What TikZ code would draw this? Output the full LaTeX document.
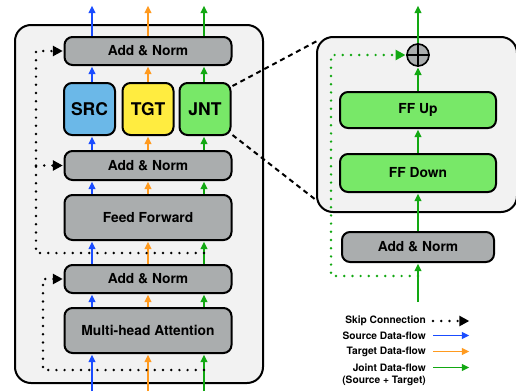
\documentclass[tikz,border=0pt]{standalone}
\usepackage{fontspec}
\setmainfont{TeX Gyre Heros}
\usetikzlibrary{arrows.meta,calc}
\definecolor{boxgray}{RGB}{170,173,174}
\definecolor{bgray}{RGB}{242,242,242}
\definecolor{srcfill}{RGB}{107,184,232}
\definecolor{tgtfill}{RGB}{255,236,64}
\definecolor{jntfill}{RGB}{120,232,104}
\definecolor{bluearr}{RGB}{26,76,255}
\definecolor{orangearr}{RGB}{255,154,31}
\definecolor{greenarr}{RGB}{18,168,18}
\begin{document}
\begin{tikzpicture}[x=1pt,y=-1pt,
  container/.style={draw=black,line width=2pt,fill=bgray,rounded corners=16pt,inner sep=0pt},
  box/.style={draw=black,line width=2pt,rounded corners=8pt,inner sep=0pt,
    font=\bfseries\fontsize{13.8}{16}\selectfont},
  gbox/.style={box,fill=boxgray,minimum width=167pt},
  cbox/.style={box,font=\bfseries\fontsize{17.5}{20}\selectfont,minimum width=51pt,minimum height=52pt},
  fbox/.style={box,fill=jntfill,minimum width=156pt},
  flow/.style={line width=1.4pt,-{Triangle[length=7.5pt,width=7pt]},shorten >=0.7pt},
  barr/.style={flow,draw=bluearr,color=bluearr},
  oarr/.style={flow,draw=orangearr,color=orangearr},
  garr/.style={flow,draw=greenarr,color=greenarr},
  skip/.style={line width=2.7pt,line cap=round,dash pattern=on 0pt off 8.2pt,
    -{Triangle[length=10pt,width=10pt]},shorten >=0.7pt},
  gskip/.style={skip,draw=greenarr,color=greenarr},
  zoomline/.style={line width=2pt,dash pattern=on 5pt off 4pt},
  legend/.style={font=\bfseries\fontsize{10.2}{12}\selectfont,inner sep=0pt,anchor=east}
]
\useasboundingbox (0,0) rectangle (516,391);

% containers
\node[container,minimum width=248pt,minimum height=358pt] (lbox) at (139,204) {};
\node[container,minimum width=200pt,minimum height=175pt] (rbox) at (417,124.5) {};

% left column blocks
\node[gbox,minimum height=28pt] (an1) at (148,51) {Add \& Norm};
\node[cbox,fill=srcfill] (src) at (89.5,109) {SRC};
\node[cbox,fill=tgtfill] (tgt) at (148,109) {TGT};
\node[cbox,fill=jntfill] (jnt) at (205,109) {JNT};
\node[gbox,minimum height=29pt] (an2) at (148,165.5) {Add \& Norm};
\node[gbox,minimum height=45pt] (ff) at (148,217.5) {Feed Forward};
\node[gbox,minimum height=28pt] (an3) at (148,279) {Add \& Norm};
\node[gbox,minimum height=45pt] (mha) at (148,330.5) {Multi-head Attention};

% column coordinates
\coordinate (cB) at (92,0);
\coordinate (cO) at (148,0);
\coordinate (cG) at (204,0);

% data flows, left
\foreach \c/\s in {cB/barr,cO/oarr,cG/garr}{
  \draw[\s] (\c |- 0,391) -- (mha.south -| \c);
  \draw[\s] (mha.north -| \c) -- (an3.south -| \c);
  \draw[\s] (an3.north -| \c) -- (ff.south -| \c);
  \draw[\s] (ff.north -| \c) -- (an2.south -| \c);
  \draw[\s] (an1.north -| \c) -- (\c |- 0,5);
}
\draw[barr] (an2.north -| cB) -- (src.south -| cB);
\draw[barr] (src.north -| cB) -- (an1.south -| cB);
\draw[oarr] (an2.north -| cO) -- (tgt.south -| cO);
\draw[oarr] (tgt.north -| cO) -- (an1.south -| cO);
\draw[garr] (an2.north -| cG) -- (jnt.south -| cG);
\draw[garr] (jnt.north -| cG) -- (an1.south -| cG);

% skip connections, left
\coordinate (s1) at (204,253);
\coordinate (s1c) at (36,253);
\coordinate (s1t) at (36,51);
\draw[skip] (s1) -- (s1c) -- (s1t) -- (an1.west);
\draw[skip] (s1c |- an2.west) -- (an2.west);
\coordinate (s2) at (204,370);
\coordinate (s2c) at (43,370);
\draw[skip] (s2) -- (s2c) -- (s2c |- an3.west) -- (an3.west);

% zoom lines
\draw[zoomline] ([shift={(1,4)}]jnt.north east) -- ([shift={(1,5)}]rbox.north west);
\draw[zoomline] ([shift={(1,-1)}]jnt.south east) -- ([shift={(0,-13)}]rbox.south west);

% right column blocks
\node[circle,draw=black,line width=1.6pt,fill=boxgray,minimum size=22pt,inner sep=0pt] (plus) at (418,55) {};
\draw[line width=2.8pt] (plus.north) -- (plus.south) (plus.west) -- (plus.east);
\node[fbox,minimum height=36pt] (ffu) at (418,110) {FF Up};
\node[fbox,minimum height=38pt] (ffd) at (418,173) {FF Down};
\node[gbox,minimum width=152pt,minimum height=30pt] (anr) at (418,247) {Add \& Norm};

\coordinate (rin) at (418,302);
\coordinate (rs) at (418,276);
\coordinate (rsc) at (331,276);
\draw[garr] (rin) -- (anr.south);
\draw[garr] (anr.north) -- (ffd.south);
\draw[garr] (ffd.north) -- (ffu.south);
\draw[garr] (ffu.north) -- (plus.south);
\draw[garr] (plus.north) -- (418,5);
\draw[gskip] (rs) -- (rsc) -- (rsc |- plus.west) -- (plus.west);

% legend
\node[legend] (l1) at (426,321) {Skip Connection};
\node[legend] (l2) at (426,335.5) {Source Data-flow};
\node[legend] (l3) at (426,351.5) {Target Data-flow};
\node[legend] (l4) at (426,367.5) {Joint Data-flow};
\node[legend] (l5) at (426,381) {(Source + Target)};
\draw[skip] ([xshift=7pt]l1.east) -- ++(37,0);
\draw[barr] ([xshift=7pt]l2.east) -- ++(37,0);
\draw[oarr] ([xshift=7pt]l3.east) -- ++(37,0);
\draw[garr] ([xshift=7pt]l4.east) -- ++(37,0);
\end{tikzpicture}
\end{document}
